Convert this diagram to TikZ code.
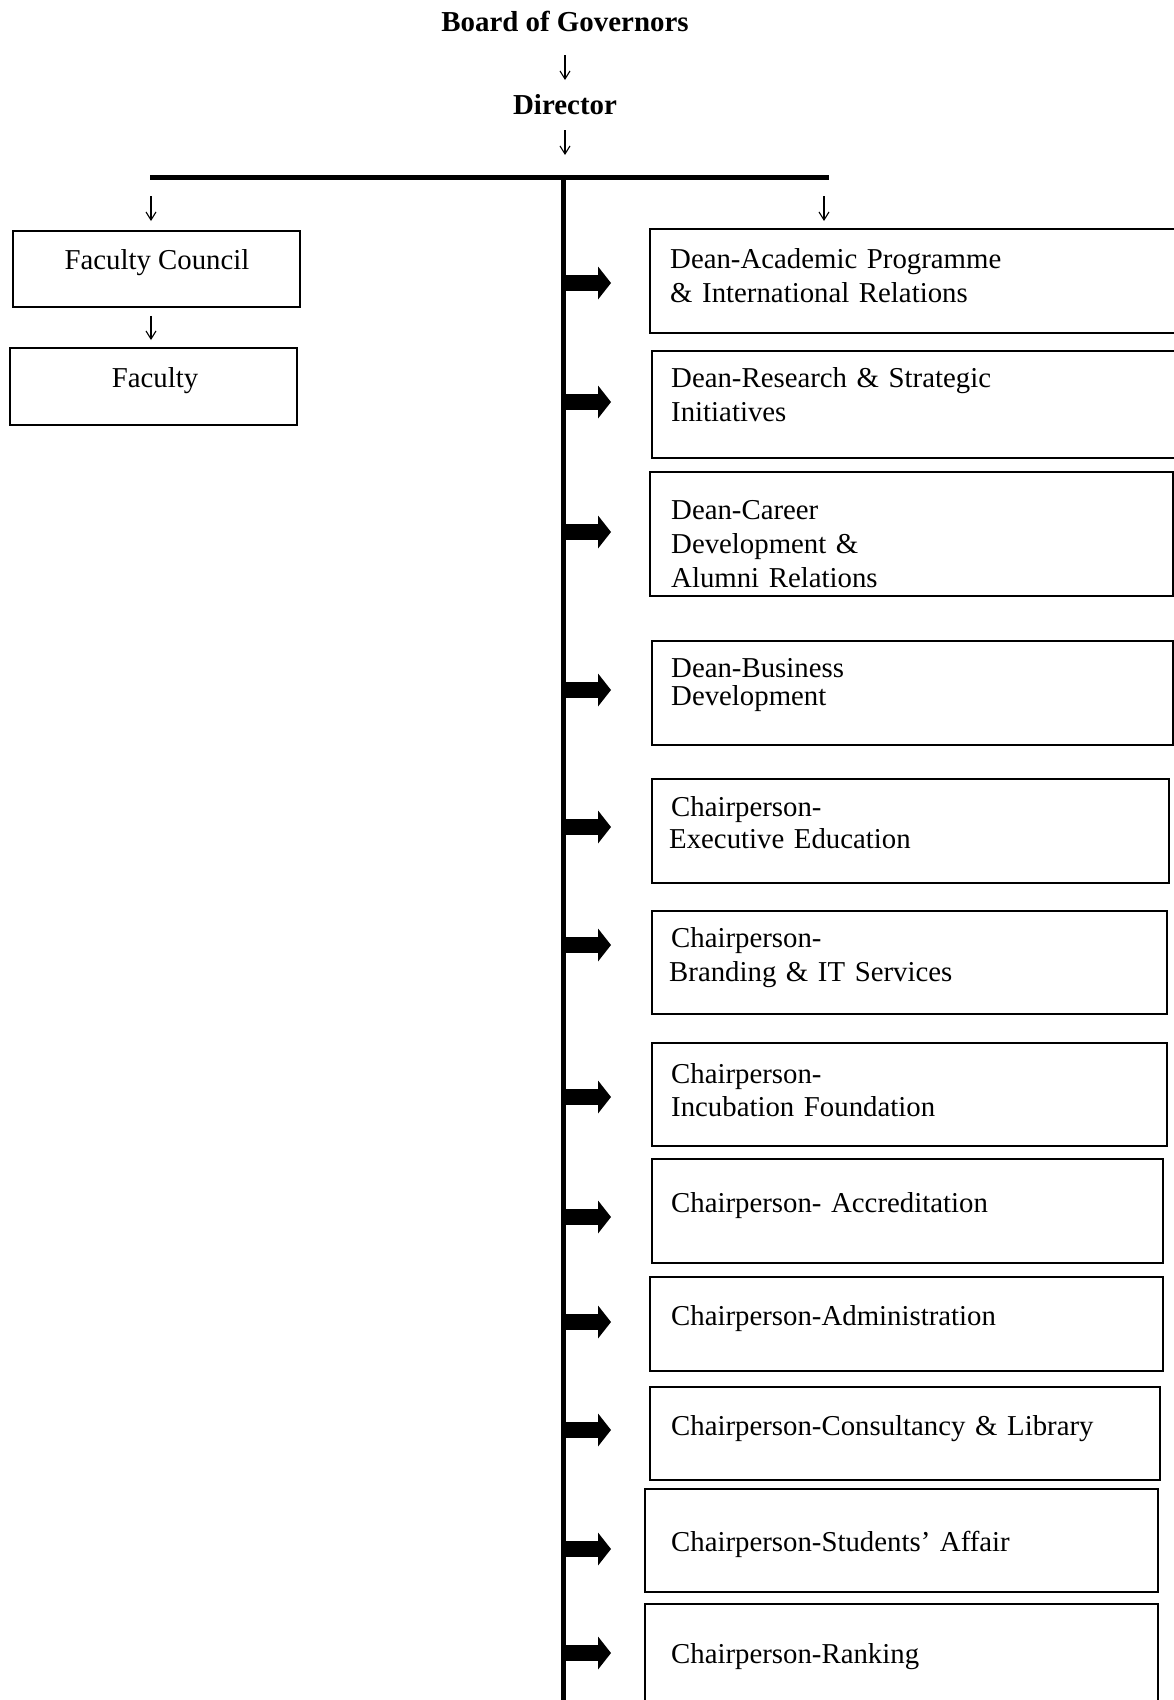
\documentclass[tikz,border=0pt]{standalone}
\usepackage{fontspec}
\setmainfont{Liberation Serif}
\usetikzlibrary{arrows.meta,calc}
\tikzset{
	headtext/.style={font=\fontsize{28.9}{34}\selectfont\bfseries, inner sep=0pt, anchor=base},
	unitbox/.style={draw, line width=1.8pt, inner sep=0pt, anchor=north west},
	unittext/.style={font=\fontsize{28.8}{34}\selectfont, inner sep=0pt, anchor=base west, text width=490pt, align=left},
	lefttext/.style={font=\fontsize{28.8}{34}\selectfont, inner sep=0pt, anchor=base},
	smallarrow/.style={line width=1.1pt, -{Straight Barb[length=8pt,width=10pt]}},
	fatarrow/.style={line width=16pt, -{Triangle[length=13pt,width=33pt,line width=0pt]}, shorten >=38pt},
}

\begin{document}
\begin{tikzpicture}[x=1pt, y=-1pt]
			%%%%% FRAME %%%%%
			\useasboundingbox (0,0) rectangle (1174,1700);
			\clip (0,0) rectangle (1174,1700);
			
			\node[headtext] (board) at (565,31) {Board of Governors};
			\node[headtext] (director) at (565,114) {Director};
			
			\coordinate (barL) at (150,177);
			\coordinate (barR) at (829,177);
			\coordinate (trunk) at (563,177);
			\coordinate (trunkend) at (563,1702);
			\coordinate (tapL) at (151,177);
			\coordinate (tapR) at (824,177);
			
			\draw[line width=5pt] (barL) -- (barR);
			\draw[line width=5pt] (trunk) -- (trunkend);
			
			\draw[smallarrow, shorten <=24pt, shorten >=34pt] (board.base) -- (director.base);
			\draw[smallarrow, shorten <=16pt, shorten >=22pt] (director.base) -- (director.base |- trunk);
			
			%%%%% LEFT %%%%%
			\node[unitbox, minimum width=287pt, minimum height=76pt] (fc) at (12,230) {};
			\node[lefttext] (fctxt) at (157,269) {Faculty Council};
			\node[unitbox, minimum width=287pt, minimum height=77pt] (fac) at (9,347) {};
			\node[lefttext] (factxt) at (155,387) {Faculty};
			
			\draw[smallarrow, shorten <=19pt, shorten >=9pt] (tapL) -- (tapL |- fc.north);
			\draw[smallarrow, shorten <=8pt, shorten >=7pt] (fc.south -| tapL) -- (tapL |- fac.north);
			
			%%%%% RIGHT %%%%%
			\node[unitbox, minimum width=531pt, minimum height=104pt] (d1) at (649,228) {};
			\node[unittext] (d1txt) at (670,268) {Dean-Academic Programme\\\& International Relations};
			
			\node[unitbox, minimum width=529pt, minimum height=107pt] (d2) at (651,350) {};
			\node[unittext] (d2txt) at (671,387) {Dean-Research \& Strategic\\Initiatives};
			
			\node[unitbox, minimum width=523pt, minimum height=124pt] (d3) at (649,471) {};
			\node[unittext] (d3txt) at (671,519) {Dean-Career\\Development \&\\Alumni Relations};
			
			\node[unitbox, minimum width=521pt, minimum height=104pt] (d4) at (651,640) {};
			\node[unittext, font=\fontsize{28.8}{28}\selectfont] (d4txt) at (671,677) {Dean-Business\\Development};
			
			\node[unitbox, minimum width=517pt, minimum height=104pt] (d5) at (651,778) {};
			\node[unittext, font=\fontsize{28.8}{32}\selectfont] (d5txt) at (671,816) {Chairperson-\\\hspace*{-2pt}Executive Education};
			
			\node[unitbox, minimum width=515pt, minimum height=103pt] (d6) at (651,910) {};
			\node[unittext] (d6txt) at (671,947) {Chairperson-\\\hspace*{-2pt}Branding \& IT Services};
			
			\node[unitbox, minimum width=515pt, minimum height=103pt] (d7) at (651,1042) {};
			\node[unittext, font=\fontsize{28.8}{33}\selectfont] (d7txt) at (671,1083) {Chairperson-\\Incubation Foundation};
			
			\node[unitbox, minimum width=511pt, minimum height=104pt] (d8) at (651,1158) {};
			\node[unittext] (d8txt) at (671,1212) {Chairperson- Accreditation};
			
			\node[unitbox, minimum width=513pt, minimum height=94pt] (d9) at (649,1276) {};
			\node[unittext] (d9txt) at (671,1325) {Chairperson-Administration};
			
			\node[unitbox, minimum width=510pt, minimum height=93pt] (d10) at (649,1386) {};
			\node[unittext] (d10txt) at (671,1435) {Chairperson-Consultancy \& Library};
			
			\node[unitbox, minimum width=513pt, minimum height=103pt] (d11) at (644,1488) {};
			\node[unittext] (d11txt) at (671,1551) {Chairperson-Students’ Affair};
			
			\node[unitbox, minimum width=513pt, minimum height=110pt] (d12) at (644,1603) {};
			\node[unittext] (d12txt) at (671,1663) {Chairperson-Ranking};
			
			\draw[smallarrow, shorten <=19pt, shorten >=7pt] (tapR) -- (tapR |- d1.north);
			
			%%%%% ARROWS %%%%%
			\coordinate (a1) at (563,283);
			\coordinate (a2) at (563,402);
			\coordinate (a3) at (563,532);
			\coordinate (a4) at (563,690);
			\coordinate (a5) at (563,827);
			\coordinate (a6) at (563,945);
			\coordinate (a7) at (563,1097);
			\coordinate (a8) at (563,1217);
			\coordinate (a9) at (563,1322);
			\coordinate (a10) at (563,1430);
			\coordinate (a11) at (563,1549);
			\coordinate (a12) at (563,1653);
			
			\draw[fatarrow] (a1) -- (a1 -| d1.west);
			\draw[fatarrow, shorten >=40pt] (a2) -- (a2 -| d2.west);
			\draw[fatarrow] (a3) -- (a3 -| d3.west);
			\draw[fatarrow, shorten >=40pt] (a4) -- (a4 -| d4.west);
			\draw[fatarrow, shorten >=40pt] (a5) -- (a5 -| d5.west);
			\draw[fatarrow, shorten >=40pt] (a6) -- (a6 -| d6.west);
			\draw[fatarrow, shorten >=40pt] (a7) -- (a7 -| d7.west);
			\draw[fatarrow, shorten >=40pt] (a8) -- (a8 -| d8.west);
			\draw[fatarrow] (a9) -- (a9 -| d9.west);
			\draw[fatarrow] (a10) -- (a10 -| d10.west);
			\draw[fatarrow, shorten >=33pt] (a11) -- (a11 -| d11.west);
			\draw[fatarrow, shorten >=33pt] (a12) -- (a12 -| d12.west);
			
		\end{tikzpicture}
\end{document}
